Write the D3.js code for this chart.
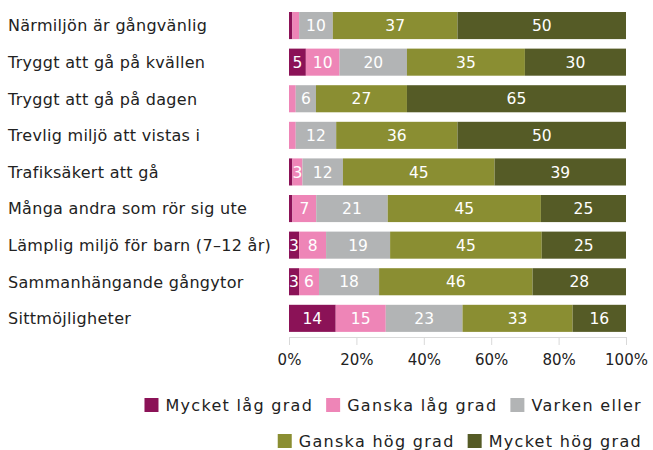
<!DOCTYPE html>
<html>
<head>
<meta charset="utf-8">
<script src="https://d3js.org/d3.v7.min.js"></script>
<style>
  body { margin: 0; background: #fff; }
  text { font-family: "DejaVu Sans", sans-serif; fill: #222; }
  .cat { font-size: 16px; letter-spacing: 0.3px; }
  .val { font-size: 15.5px; fill: #fff; }
  .tick text { font-size: 15px; fill: #222; }
  .legend text { font-size: 16px; letter-spacing: 1.3px; }
</style>
</head>
<body>
<svg width="653" height="450"></svg>
<script>
var categories = [
  "Närmiljön är gångvänlig",
  "Tryggt att gå på kvällen",
  "Tryggt att gå på dagen",
  "Trevlig miljö att vistas i",
  "Trafiksäkert att gå",
  "Många andra som rör sig ute",
  "Lämplig miljö för barn (7–12 år)",
  "Sammanhängande gångytor",
  "Sittmöjligheter"
];
var seriesNames = ["Mycket låg grad", "Ganska låg grad", "Varken eller", "Ganska hög grad", "Mycket hög grad"];
var colors = ["#8b1257", "#ee85b7", "#b2b4b5", "#8a8e32", "#555b26"];

var mycketLag  = [1, 5, 0, 0, 1, 1, 3, 3, 14];
var ganskaLag  = [2, 10, 2, 2, 3, 7, 8, 6, 15];
var varken     = [10, 20, 6, 12, 12, 21, 19, 18, 23];
var ganskaHog  = [37, 35, 27, 36, 45, 45, 45, 46, 33];
var mycketHog  = [50, 30, 65, 50, 39, 25, 25, 28, 16];
var xTicks = [0, 0.2, 0.4, 0.6, 0.8, 1];

var values = [mycketLag, ganskaLag, varken, ganskaHog, mycketHog];
var rows = categories.map(function(c, i) {
  var r = { cat: c };
  seriesNames.forEach(function(s, j) { r[s] = values[j][i]; });
  return r;
});

var svg = d3.select("svg");
var x = d3.scaleLinear().domain([0, 1]).range([289, 626]);
var y = d3.scaleBand().domain(categories).range([2.5, 341.4]).padding(0.26);

var stack = d3.stack().keys(seriesNames).offset(d3.stackOffsetExpand);
var stacked = stack(rows);

var layer = svg.selectAll("g.layer")
  .data(stacked)
  .enter().append("g")
  .attr("class", "layer")
  .attr("fill", function(d, i) { return colors[i]; });

layer.selectAll("rect")
  .data(function(d) { return d; })
  .enter().append("rect")
  .attr("x", function(d) { return x(d[0]); })
  .attr("y", function(d) { return y(d.data.cat); })
  .attr("width", function(d) { return x(d[1]) - x(d[0]); })
  .attr("height", y.bandwidth());

layer.each(function(s) {
  d3.select(this).selectAll("text")
    .data(s.filter(function(d) { return d.data[s.key] >= 3; }))
    .enter().append("text")
    .attr("class", "val")
    .attr("x", function(d) { return (x(d[0]) + x(d[1])) / 2; })
    .attr("y", function(d) { return y(d.data.cat) + y.bandwidth() / 2; })
    .attr("dy", "0.36em")
    .attr("text-anchor", "middle")
    .text(function(d) { return d.data[s.key]; });
});

svg.selectAll("text.cat")
  .data(categories)
  .enter().append("text")
  .attr("class", "cat")
  .attr("x", 8)
  .attr("y", function(d) { return y(d) + y.bandwidth() / 2; })
  .attr("dy", "0.36em")
  .text(function(d) { return d; });

var axis = svg.append("g")
  .attr("transform", "translate(0,337)")
  .call(d3.axisBottom(x).tickValues(xTicks).tickFormat(d3.format(".0%")).tickSize(8).tickPadding(9));
axis.selectAll("line").attr("stroke", "#d9d9d9");
axis.select(".domain").attr("stroke", "#d9d9d9").attr("d", "M289,0.5H626");

// legend: two rows, right aligned
var legendRows = [[0, 1, 2], [3, 4]];
var legendY = [405, 441];
var legend = svg.append("g").attr("class", "legend");
legendRows.forEach(function(idx, r) {
  var items = idx.map(function(i) {
    var g = legend.append("g");
    g.append("rect").attr("width", 14).attr("height", 14).attr("y", -7).attr("fill", colors[i]);
    var t = g.append("text").attr("x", 21).attr("dy", "0.36em").text(seriesNames[i]);
    return { g: g, w: 21 + t.node().getComputedTextLength() };
  });
  var total = d3.sum(items, function(d) { return d.w; }) + 13 * (items.length - 1);
  var cx = 642 - total;
  items.forEach(function(it) {
    it.g.attr("transform", "translate(" + cx + "," + legendY[r] + ")");
    cx += it.w + 13;
  });
});
</script>
</body>
</html>
